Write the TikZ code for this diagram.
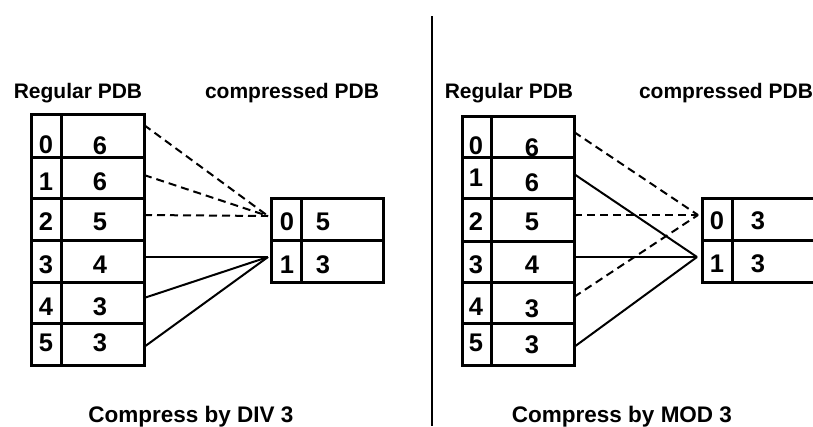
\documentclass[tikz,border=0pt]{standalone}
\usepackage{fontspec}
\setmainfont{Liberation Sans}
\usetikzlibrary{calc}
\tikzset{
  cell/.style={draw, rectangle, line width=3pt, inner sep=0pt, outer sep=0pt},
  dig/.style={inner sep=0pt, font=\fontsize{25.5}{29}\selectfont\bfseries},
  lab/.style={inner sep=0pt, anchor=base, font=\fontsize{21}{25}\selectfont\bfseries},
  captext/.style={inner sep=0pt, anchor=base, font=\fontsize{22.5}{26}\selectfont\bfseries},
  dashline/.style={line width=2pt, dash pattern=on 8pt off 5pt},
  solidline/.style={line width=2pt}
}
\newcommand\mkcell[5]{%
  \pgfmathsetmacro\cw{#4-#2}\pgfmathsetmacro\ch{#5-#3}%
  \node[cell, minimum width=\cw pt, minimum height=\ch pt] (#1) at ({(#2+#4)/2},{(#3+#5)/2}) {};}
\begin{document}
\begin{tikzpicture}[x=1pt,y=-1pt]
\useasboundingbox (0,0) rectangle (813,426);
% divider
\coordinate (dtop) at (432,16);
\coordinate (dbot) at (432,426);
\draw[line width=2.5pt] (dtop) -- (dbot);
% ---------- left panel ----------
\node[lab] (lreg) at (78,98) {Regular PDB};
\node[lab] (lcmp) at (292,98) {compressed PDB};
\mkcell{li0}{31}{114}{61}{157}\mkcell{lv0}{61}{114}{144}{157}
\mkcell{li1}{31}{157}{61}{198}\mkcell{lv1}{61}{157}{144}{198}
\mkcell{li2}{31}{198}{61}{240}\mkcell{lv2}{61}{198}{144}{240}
\mkcell{li3}{31}{240}{61}{282}\mkcell{lv3}{61}{240}{144}{282}
\mkcell{li4}{31}{282}{61}{323}\mkcell{lv4}{61}{282}{144}{323}
\mkcell{li5}{31}{323}{61}{365}\mkcell{lv5}{61}{323}{144}{365}
\node[dig] (lt0) at (46,145) {0}; \node[dig] (lu0) at (100,146) {6};
\node[dig] (lt1) at (46,182) {1}; \node[dig] (lu1) at (100,182) {6};
\node[dig] (lt2) at (46,222) {2}; \node[dig] (lu2) at (100,222) {5};
\node[dig] (lt3) at (46,265) {3}; \node[dig] (lu3) at (100,265) {4};
\node[dig] (lt4) at (46,307) {4}; \node[dig] (lu4) at (100,307) {3};
\node[dig] (lt5) at (46,343) {5}; \node[dig] (lu5) at (100,343) {3};
\mkcell{lci0}{271}{198}{301}{240}\mkcell{lc0}{301}{198}{383}{240}
\mkcell{lci1}{271}{240}{301}{282}\mkcell{lc1}{301}{240}{383}{282}
\node[dig] (lct0) at (287,222) {0}; \node[dig] (lcu0) at (323,222) {5};
\node[dig] (lct1) at (287,265) {1}; \node[dig] (lcu1) at (323,265) {3};
\coordinate (lp1) at ([xshift=-3pt,yshift=3pt]lci0.west);
\coordinate (lp2) at ([xshift=-3pt,yshift=4pt]lci1.west);
\draw[dashline] ([yshift=10.5pt]lv0.east) -- (lp1);
\draw[dashline] ([yshift=2.5pt]lv1.east) -- (lp1);
\draw[dashline] ([yshift=4pt]lv2.east) -- (lp1);
\draw[solidline] ([yshift=4pt]lv3.east) -- (lp2);
\draw[solidline] ([yshift=4.5pt]lv4.east) -- (lp2);
\draw[solidline] ([yshift=-3pt]lv5.east) -- (lp2);
\node[captext] (lcap) at (191,422) {Compress by DIV 3};
% ---------- right panel ----------
\node[lab] (rreg) at (509,98) {Regular PDB};
\node[lab] (rcmp) at (726,98) {compressed PDB};
\mkcell{ri0}{462}{116}{491}{157}\mkcell{rv0}{491}{116}{574}{157}
\mkcell{ri1}{462}{157}{491}{198}\mkcell{rv1}{491}{157}{574}{198}
\mkcell{ri2}{462}{198}{491}{241}\mkcell{rv2}{491}{198}{574}{241}
\mkcell{ri3}{462}{241}{491}{282}\mkcell{rv3}{491}{241}{574}{282}
\mkcell{ri4}{462}{282}{491}{323}\mkcell{rv4}{491}{282}{574}{323}
\mkcell{ri5}{462}{323}{491}{365}\mkcell{rv5}{491}{323}{574}{365}
\node[dig] (rt0) at (476,146) {0}; \node[dig] (ru0) at (532,148) {6};
\node[dig] (rt1) at (476,178) {1}; \node[dig] (ru1) at (532,183) {6};
\node[dig] (rt2) at (476,222) {2}; \node[dig] (ru2) at (532,222) {5};
\node[dig] (rt3) at (476,265) {3}; \node[dig] (ru3) at (532,265) {4};
\node[dig] (rt4) at (476,307) {4}; \node[dig] (ru4) at (532,309) {3};
\node[dig] (rt5) at (476,343) {5}; \node[dig] (ru5) at (532,345) {3};
\mkcell{rci0}{702}{198}{732}{240}\mkcell{rc0}{732}{198}{822}{240}
\mkcell{rci1}{702}{240}{732}{282}\mkcell{rc1}{732}{240}{822}{282}
\node[dig] (rct0) at (717,221) {0}; \node[dig] (rcu0) at (758,221) {3};
\node[dig] (rct1) at (717,264) {1}; \node[dig] (rcu1) at (758,264) {3};
\coordinate (rp1) at ([xshift=-4pt,yshift=4pt]rci0.west);
\coordinate (rp2) at ([xshift=-5pt,yshift=4pt]rci1.west);
\draw[dashline] ([yshift=4.5pt]rv0.east) -- (rp1);
\draw[dashline] ([yshift=4.5pt]rv2.east) -- (rp1);
\draw[dashline] ([yshift=5.5pt]rv4.east) -- (rp1);
\draw[solidline] ([yshift=3.5pt]rv1.east) -- (rp2);
\draw[solidline] ([yshift=4.5pt]rv3.east) -- (rp2);
\draw[solidline] ([yshift=-3pt]rv5.east) -- (rp2);
\node[captext] (rcap) at (622,422) {Compress by MOD 3};
\end{tikzpicture}
\end{document}
